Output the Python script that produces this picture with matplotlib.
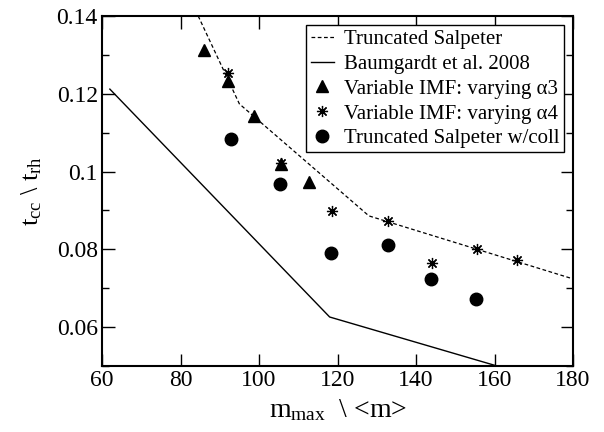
import numpy as np
import matplotlib
matplotlib.use('Agg')
import matplotlib.pyplot as plt
from matplotlib.ticker import MultipleLocator, FormatStrFormatter

plt.rcParams['font.family'] = 'Liberation Serif'
plt.rcParams['mathtext.fontset'] = 'custom'
plt.rcParams['mathtext.rm'] = 'Liberation Serif'
plt.rcParams['mathtext.it'] = 'Liberation Serif:italic'

# lines
trunc_x = [82, 95, 128, 180]
trunc_y = [0.1454, 0.1174, 0.0886, 0.0724]
baum_x = [62, 118, 162]
baum_y = [0.1212, 0.0626, 0.0496]

# points
tri_x = [86.0, 92.1, 98.7, 105.6, 112.7]
tri_y = [0.1313, 0.1233, 0.1143, 0.1020, 0.0973]
star_x = [92.1, 105.6, 118.6, 132.9, 144.1, 155.5, 165.7]
star_y = [0.1253, 0.1022, 0.0899, 0.0873, 0.0765, 0.0801, 0.0773]
circ_x = [92.9, 105.4, 118.3, 132.9, 143.8, 155.3]
circ_y = [0.1084, 0.0968, 0.0791, 0.0811, 0.0724, 0.0673]

fig = plt.figure(figsize=(6.04, 4.32), dpi=100)
ax = fig.add_axes([102/604, 66/432, 471/604, 350/432])

ax.plot(trunc_x, trunc_y, color='k', lw=0.9, ls=(0, (3, 2)), label='Truncated Salpeter')
ax.plot(baum_x, baum_y, color='k', lw=1.0, label='Baumgardt et al. 2008')
ax.plot(tri_x, tri_y, ls='none', marker='^', ms=8.5, color='k',
        label='Variable IMF: varying \u03b13')
ax.plot(star_x, star_y, ls='none', marker=(8, 2, 0), ms=8, mew=0.9, color='k',
        label='Variable IMF: varying \u03b14')
ax.plot(circ_x, circ_y, ls='none', marker='o', ms=9, color='k',
        label='Truncated Salpeter w/coll')

ax.set_xlim(60, 180)
ax.set_ylim(0.05, 0.14)
ax.xaxis.set_major_locator(MultipleLocator(20))
ax.yaxis.set_major_locator(MultipleLocator(0.02))
ax.yaxis.set_minor_locator(MultipleLocator(0.01))
ax.yaxis.set_major_formatter(FormatStrFormatter('%g'))
ax.tick_params(which='both', direction='in', top=True, right=True, width=1.0,
               labelsize=17, pad=3)
ax.tick_params(which='major', length=9)
ax.tick_params(which='minor', length=5)
for s in ax.spines.values():
    s.set_linewidth(1.5)

ax.set_xlabel(r'$\mathrm{m}_{\mathrm{max}}$  \ <m>', fontsize=20, labelpad=4)
ax.set_ylabel(r'$\mathrm{t}_{\mathrm{cc}}$ \ $\mathrm{t}_{\mathrm{rh}}$', fontsize=19, labelpad=9)

leg = ax.legend(loc='upper right', fontsize=15, frameon=True, fancybox=False,
                edgecolor='k', framealpha=1, handlelength=1.1, handletextpad=0.5,
                labelspacing=0.25, borderpad=0.2, borderaxespad=0.45)
leg.get_frame().set_linewidth(1.0)

fig.savefig('out.png', dpi=100)
